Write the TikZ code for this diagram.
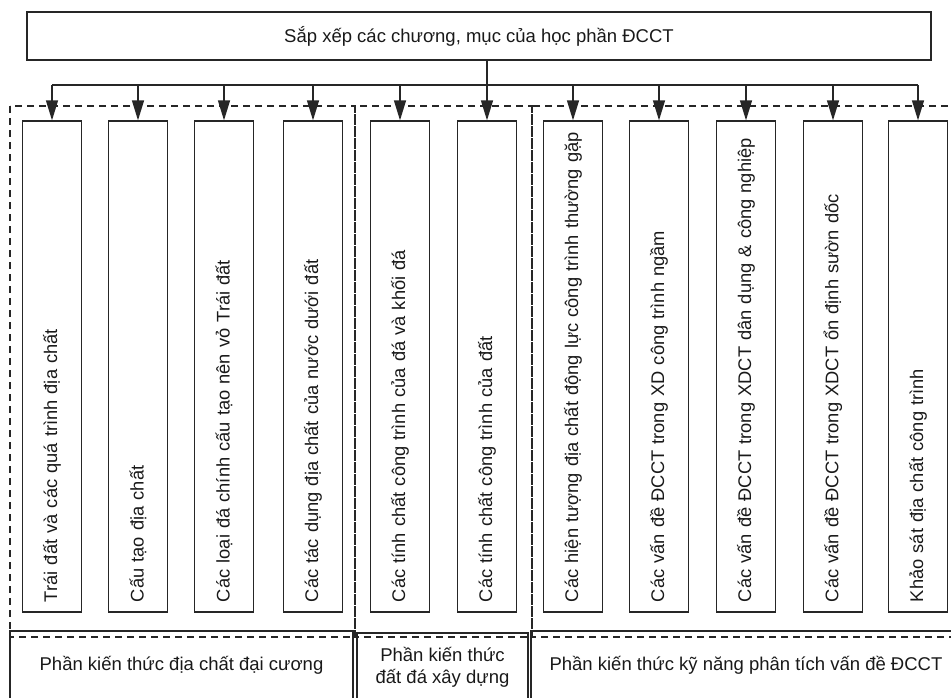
\documentclass[tikz,border=0pt]{standalone}
\usepackage{fontspec}
\setmainfont{Liberation Sans}
\usetikzlibrary{arrows.meta}
\begin{document}
\begin{tikzpicture}[x=1pt,y=-1pt,
  ln/.style={line width=1.3pt, draw=black!85},
  txt/.style={font=\fontsize{18.5}{22}\selectfont, text=black!90},
  box/.style={ln, rectangle, inner sep=0pt, txt},
  vbox/.style={box, font=\fontsize{18.3}{22}\selectfont, rotate=90, minimum width=491pt, minimum height=59pt,
    text width=471pt, inner xsep=10pt, align=left},
  pbox/.style={box, minimum height=68pt, align=center},
  arr/.style={ln, -{Triangle[length=20pt,width=12pt]}},
  dsh/.style={ln, dash pattern=on 7pt off 5pt}
]
\useasboundingbox (0,0) rectangle (951,697);
\clip (0,0) rectangle (951,697);

% group frames
\draw[dsh] (10,106) rectangle (355,637);
\draw[dsh] (355,106) rectangle (532,637);
\draw[dsh] (532,106) rectangle (965,637);

% top box
\node[box, minimum width=904pt, minimum height=48pt] (top) at (479,36)
  {Sắp xếp các chương, mục của học phần ĐCCT};

% vertical boxes
\node[vbox] (b1)  at (52,366.5)  {Trái đất và các quá trình địa chất};
\node[vbox] (b2)  at (138,366.5) {Cấu tạo địa chất};
\node[vbox] (b3)  at (224,366.5) {Các loại đá chính cấu tạo nên vỏ Trái đất};
\node[vbox] (b4)  at (313,366.5) {Các tác dụng địa chất của nước dưới đất};
\node[vbox] (b5)  at (400,366.5) {Các tính chất công trình của đá và khối đá};
\node[vbox] (b6)  at (487,366.5) {Các tính chất công trình của đất};
\node[vbox] (b7)  at (573,366.5) {Các hiện tượng địa chất động lực công trình thường gặp};
\node[vbox] (b8)  at (659,366.5) {Các vấn đề ĐCCT trong XD công trình ngầm};
\node[vbox] (b9)  at (746,366.5) {Các vấn đề ĐCCT trong XDCT dân dụng \& công nghiệp};
\node[vbox] (b10) at (833,366.5) {Các vấn đề ĐCCT trong XDCT ổn định sườn dốc};
\node[vbox] (b11) at (918,366.5) {Khảo sát địa chất công trình};

% bottom part boxes
\node[pbox, minimum width=343pt] (pA) at (181.5,665) {Phần kiến thức địa chất đại cương};
\node[pbox, minimum width=171pt] (pB) at (442.5,667) {Phần kiến thức\\đất đá xây dựng};
\node[pbox, minimum width=430pt] (pC) at (746,665) {Phần kiến thức kỹ năng phân tích vấn đề ĐCCT};

% connectors
\coordinate (bus) at (0,85);
\draw[ln] (top.south -| b6.east) -- (b6.east |- bus);
\draw[ln] (b1.east |- bus) -- (b11.east |- bus);
\foreach \b in {b1,b2,b3,b4,b5,b6,b7,b8,b9,b10,b11}
  \draw[arr] (\b.east |- bus) -- (\b.east);
\end{tikzpicture}
\end{document}
